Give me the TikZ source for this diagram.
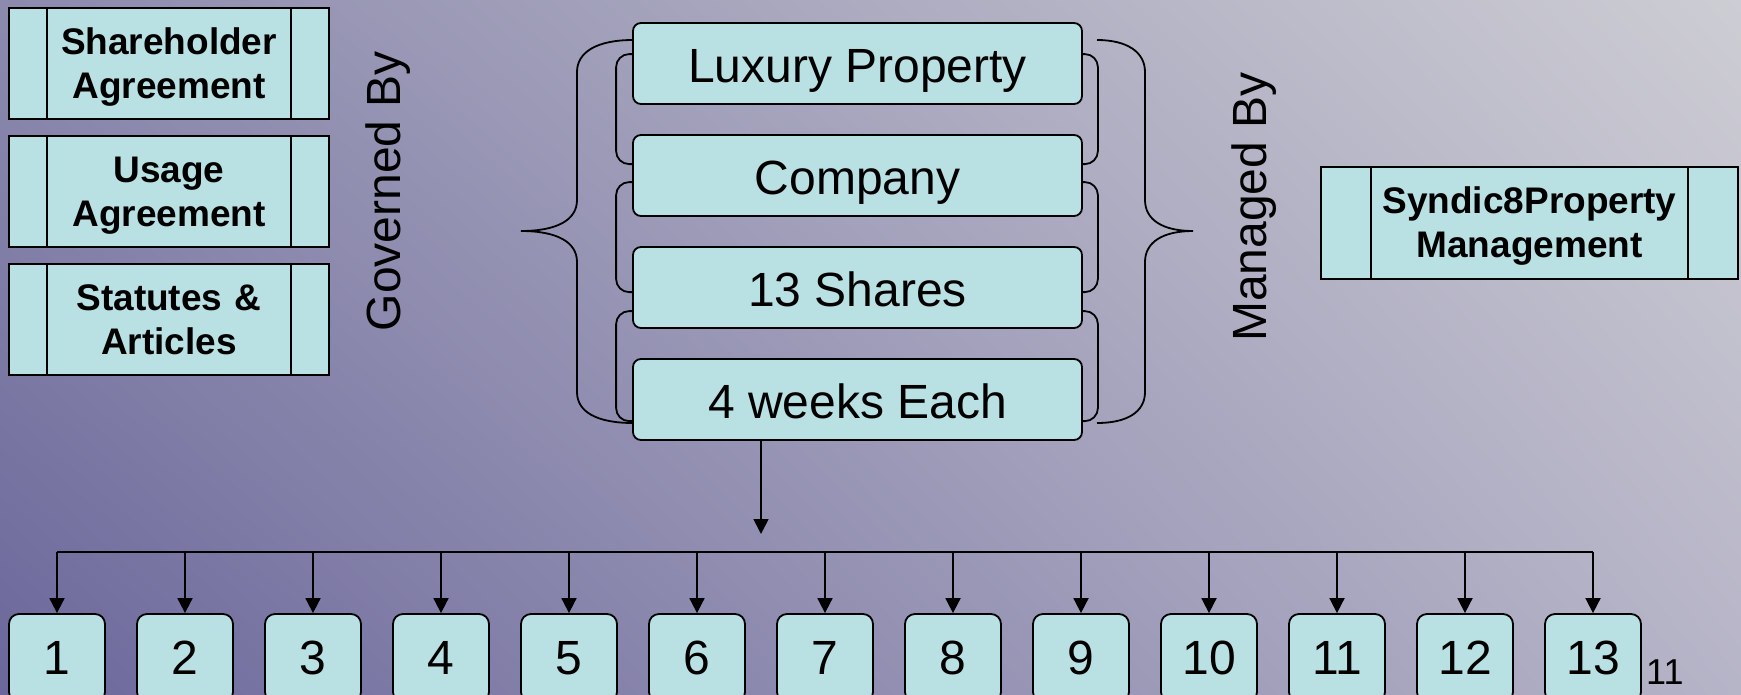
\documentclass[tikz,border=0pt]{standalone}
\usepackage{fontspec}
\setmainfont{Liberation Sans}
\usetikzlibrary{arrows.meta,shadings}

\definecolor{boxfill}{HTML}{B9E0E3}
\definecolor{bgTL}{HTML}{8C8AAD}
\definecolor{bgTR}{HTML}{CDCDD4}
\definecolor{bgBL}{HTML}{6B679B}
\definecolor{bgBR}{HTML}{B6B4C7}

\begin{document}
\begin{tikzpicture}[x=1pt, y=1pt, >={Triangle[length=15pt,width=15pt]}, node distance=112pt,
	doc/.style={draw, fill=boxfill, line width=1.8pt, minimum width=320pt, minimum height=111pt,
		inner sep=0pt, text width=240pt, text height=33pt, text depth=52pt, align=center,
		font=\bfseries\fontsize{37}{44}\selectfont},
	item/.style={draw, fill=boxfill, line width=1.8pt, rounded corners=8pt, minimum width=449pt,
		minimum height=81pt, inner sep=0pt, text height=37pt, text depth=0pt, font=\fontsize{48}{58}\selectfont},
	share/.style={draw, fill=boxfill, line width=1.8pt, rounded corners=10pt, minimum width=96pt,
		minimum height=88pt, inner sep=0pt, font=\fontsize{48}{58}\selectfont},
	sidetext/.style={rotate=90, inner sep=0pt, font=\fontsize{48}{58}\selectfont},
	link/.style={line width=1.8pt}]

	\useasboundingbox (0,0) rectangle (1741,-694);
	\clip (0,0) rectangle (1741,-694);
	\shade [upper left=bgTL, upper right=bgTR, lower left=bgBL, lower right=bgBR] (0,-694) rectangle (1741,0);

	% Documents {sha, usa, sta, syn}
	\node [doc] (sha) at (169,-63.5)  {Shareholder\\Agreement};
	\node [doc] (usa) at (169,-191.5) {Usage\\Agreement};
	\node [doc] (sta) at (169,-319.5) {Statutes \&\\Articles};
	\node [doc, minimum width=417pt, minimum height=112pt, text width=330pt] (syn) at (1529.5,-223) {Syndic8Property\\Management};

	\foreach \b/\w in {sha/39pt, usa/39pt, sta/39pt, syn/51pt}
		\draw [link] ([xshift=\w]\b.north west) -- ([xshift=\w]\b.south west)
			([xshift=-\w]\b.north east) -- ([xshift=-\w]\b.south east);

	\node [sidetext] (gov) at (388,-191)  {Governed By};
	\node [sidetext] (man) at (1254,-207) {Managed By};

	% Stack {lux, comp, shares, weeks}
	\node [item] (lux)    at (857.5,-63.5)    {Luxury Property};
	\node [item] (comp)   [below of=lux]     {Company};
	\node [item] (shares) [below of=comp]    {13 Shares};
	\node [item] (weeks)  [below of=shares]  {4 weeks Each};

	% Brackets between the stacked boxes
	\foreach \a/\b/\p/\q in {lux/comp/32pt/30pt, comp/shares/48pt/46pt, shares/weeks/65pt/63pt} {
		\draw [link, rounded corners=13pt] ([yshift=-\p]\a.north west)
			-| ([xshift=-16pt, yshift=-\q]\b.north west) -- ([yshift=-\q]\b.north west);
		\draw [link, rounded corners=13pt] ([yshift=-\p]\a.north east)
			-| ([xshift=15pt, yshift=-\q]\b.north east) -- ([yshift=-\q]\b.north east);
	}

	% Braces
	\draw [link] (633,-40) .. controls (597,-40) and (577,-52) .. (577,-72)
		-- (577,-200) .. controls (577,-220) and (557,-231) .. (521,-231)
		.. controls (557,-231) and (577,-242) .. (577,-262)
		-- (577,-392) .. controls (577,-412) and (597,-423) .. (633,-423);
	\draw [link] (1097,-40) .. controls (1127,-40) and (1145,-52) .. (1145,-72)
		-- (1145,-200) .. controls (1145,-220) and (1163,-231) .. (1193,-231)
		.. controls (1163,-231) and (1145,-242) .. (1145,-262)
		-- (1145,-392) .. controls (1145,-412) and (1127,-423) .. (1097,-423);

	% Shares {n1 ... n13}
	\coordinate (drop) at (761,-534);
	\coordinate (bus)  at (0,-552);
	\draw [link, ->] (drop |- weeks.south) -- (drop);

	\foreach \i in {1,...,13}
		\node [share] (n\i) at ({57+128*(\i-1)},-658) {\i};

	\draw [link] (n1 |- bus) -- (n13 |- bus);
	\foreach \i in {1,...,13}
		\draw [link, ->] (n\i |- bus) -- (n\i.north);

	\node [anchor=base west, inner sep=0pt, font=\fontsize{36}{44}\selectfont] (pg) at (1646,-684) {11};

\end{tikzpicture}
\end{document}
